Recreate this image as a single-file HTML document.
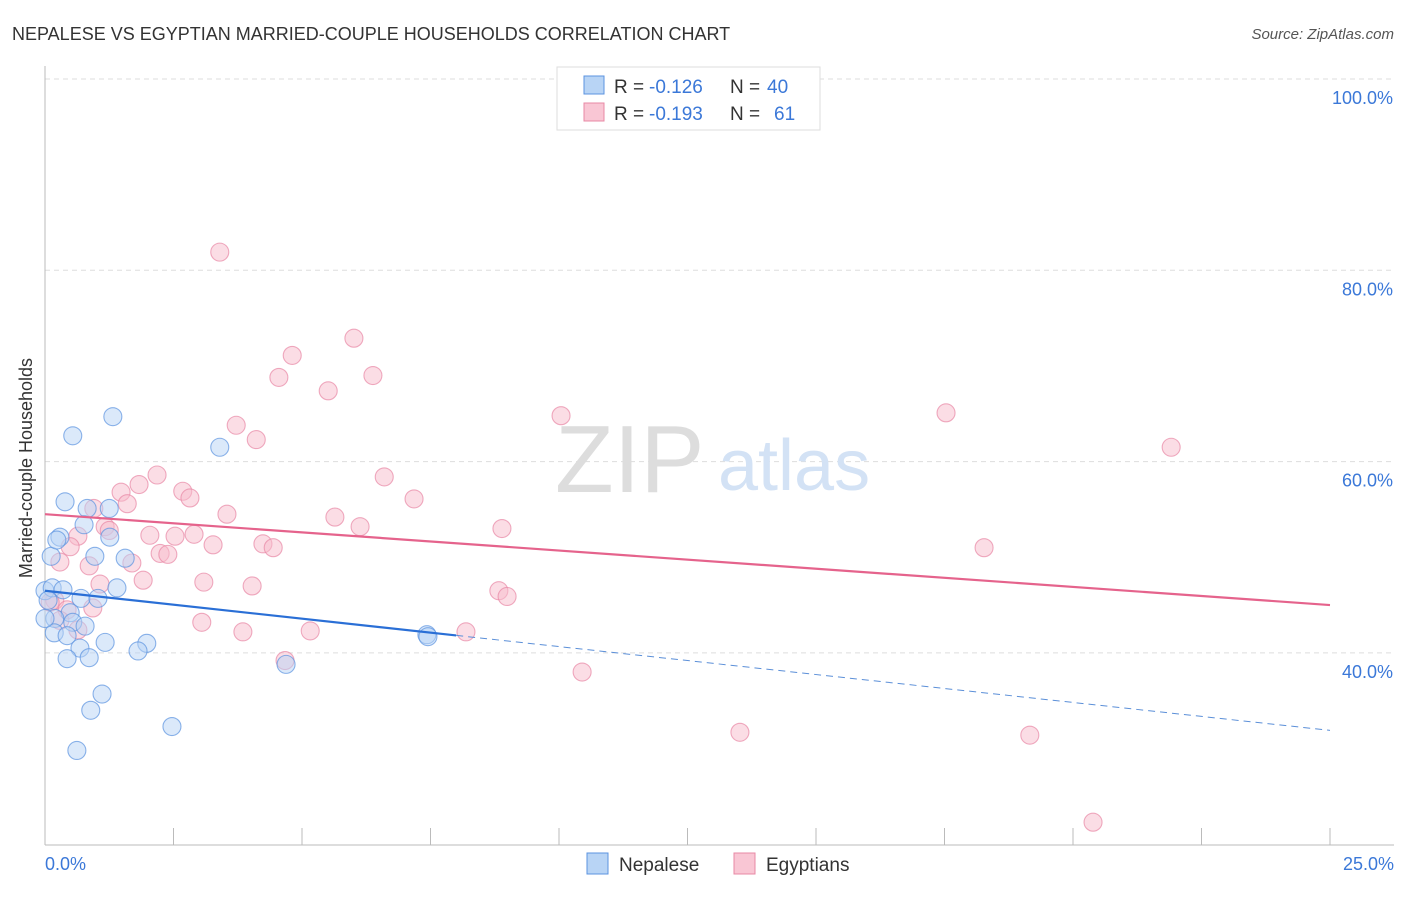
<!DOCTYPE html>
<html><head><meta charset="utf-8"><style>
body{margin:0;background:#fff;font-family:"Liberation Sans",sans-serif;}
svg text{font-family:"Liberation Sans",sans-serif;}
</style></head><body>
<svg id="chart" width="1406" height="892">
<text x="12" y="40" font-size="18" fill="#333">NEPALESE VS EGYPTIAN MARRIED-COUPLE HOUSEHOLDS CORRELATION CHART</text>
<text x="1394" y="39" font-size="15" fill="#555" font-style="italic" text-anchor="end">Source: ZipAtlas.com</text>
<g id="grid"></g>
<line x1="45" y1="66" x2="45" y2="845" stroke="#bbb"/>
<line x1="45" y1="845" x2="1394" y2="845" stroke="#bbb"/>
<text x="555" y="492" font-size="96" fill="#ddd" font-family="Liberation Serif">ZIP</text>
<text x="718" y="490" font-size="72" fill="#d3e2f5">atlas</text>
<g id="ticks"></g>
<g id="pts"></g>
<g id="lines"></g>
<text x="20" y="456" font-size="18" fill="#333" transform="rotate(-90 32 456)" text-anchor="middle">Married-couple Households</text>
<text x="45" y="870" font-size="18" fill="#3b78d8">0.0%</text>
<text x="1394" y="870" font-size="18" fill="#3b78d8" text-anchor="end">25.0%</text>
<g>
<rect x="557" y="67" width="263" height="63" fill="#fff" stroke="#ddd"/>
<rect x="584" y="76" width="20" height="18" fill="#b8d4f5" stroke="#5b93e0"/>
<rect x="584" y="103" width="20" height="18" fill="#f9c6d4" stroke="#e888a5"/>
<text x="614" y="93" font-size="19" fill="#333">R =</text>
<text x="649" y="93" font-size="19" fill="#3b78d8">-0.126</text>
<text x="730" y="93" font-size="19" fill="#333">N =</text>
<text x="767" y="93" font-size="19" fill="#3b78d8">40</text>
<text x="614" y="120" font-size="19" fill="#333">R =</text>
<text x="649" y="120" font-size="19" fill="#3b78d8">-0.193</text>
<text x="730" y="120" font-size="19" fill="#333">N =</text>
<text x="774" y="120" font-size="19" fill="#3b78d8">61</text>
</g>
<g>
<rect x="587" y="853" width="21" height="21" fill="#b8d4f5" stroke="#5b93e0"/>
<text x="619" y="871" font-size="19" fill="#333">Nepalese</text>
<rect x="734" y="853" width="21" height="21" fill="#f9c6d4" stroke="#e888a5"/>
<text x="766" y="871" font-size="19" fill="#333">Egyptians</text>
</g>
</svg>
<script>
const yTicks=[100,80,60,40];
const yTickLabels=["100.0%","80.0%","60.0%","40.0%"];
const xTicks=[0,2.5,5,7.5,10,12.5,15,17.5,20,22.5,25];
const nepX=[1.32,0.54,3.40,0.39,0.82,1.25,0.76,0.29,1.26,0.12,0.97,1.56,0.0,0.14,0.35,1.40,0.70,1.03,0.49,0.19,0.54,0.78,0.18,0.43,1.17,1.98,0.68,1.81,0.43,0.86,7.43,7.45,4.69,1.11,0.89,2.47,0.62,0.0,0.23,0.06];
const nepY=[64.7,62.7,61.5,55.8,55.1,55.1,53.4,52.1,52.1,50.1,50.1,49.9,46.5,46.8,46.6,46.8,45.7,45.7,44.2,43.6,43.2,42.8,42.1,41.8,41.1,41.0,40.5,40.2,39.4,39.5,41.9,41.7,38.8,35.7,34.0,32.3,29.8,43.6,51.8,45.5];
const egyX=[3.40,6.01,4.81,6.38,4.55,5.51,10.04,17.53,3.72,4.11,21.91,2.18,6.60,1.83,2.68,1.48,2.82,7.18,0.95,1.60,3.54,5.64,1.17,1.25,0.64,2.04,2.90,2.53,6.13,8.89,3.27,4.24,4.44,0.49,2.24,2.39,18.27,1.69,0.86,0.29,1.91,1.07,3.09,4.03,8.83,8.99,0.19,0.43,0.93,3.05,3.85,5.16,8.19,4.67,10.45,13.52,19.16,20.39,0.10,0.29,0.64];
const egyY=[81.9,72.9,71.1,69.0,68.8,67.4,64.8,65.1,63.8,62.3,61.5,58.6,58.4,57.6,56.9,56.8,56.2,56.1,55.1,55.6,54.5,54.2,53.2,52.8,52.2,52.3,52.4,52.2,53.2,53.0,51.3,51.4,51.0,51.1,50.4,50.3,51.0,49.4,49.1,49.5,47.6,47.2,47.4,47.0,46.5,45.9,45.5,44.5,44.7,43.2,42.2,42.3,42.2,39.2,38.0,31.7,31.4,22.3,45.3,43.4,42.4];
const nepTrend=[46.5,31.9]; const nepSolidEnd=8.0;
const egyTrend=[54.5,45.0];
const NS="http://www.w3.org/2000/svg";
const xs=v=>45+v*51.4, ys=v=>79+(100-v)*9.565;
function mk(t,a,p){const e=document.createElementNS(NS,t);for(const k in a)e.setAttribute(k,a[k]);document.getElementById(p).appendChild(e);return e;}
yTicks.forEach((v,i)=>{
 const l=mk('line',{x1:45,x2:1394,y1:ys(v),y2:ys(v),stroke:'#ddd','stroke-dasharray':'5,4'},'grid');
 
 
 const t=mk('text',{x:1393,y:ys(v)+25,'font-size':18,fill:'#3b78d8','text-anchor':'end'},'ticks');
 t.textContent=yTickLabels[i];
 
 
});
xTicks.forEach(v=>{
 const l=mk('line',{x1:xs(v),x2:xs(v),y1:828,y2:845,stroke:'#bbb'},'ticks');
 
 
});
function pts(X,Y,fill,stroke,name){X.forEach((x,i)=>{
 const c=mk('circle',{cx:xs(x),cy:ys(Y[i]),r:9,fill:fill,'fill-opacity':0.5,stroke:stroke,'stroke-width':1.1,'stroke-opacity':0.7},'pts');
 
 
});}
pts(egyX,egyY,'#f7bccc','#e888a5','egyptian-point');
pts(nepX,nepY,'#b8d4f5','#5b93e0','nepalese-point');
const ln=(a,b)=>v=>a+(b-a)*v/25;
const nf=ln(nepTrend[0],nepTrend[1]), ef=ln(egyTrend[0],egyTrend[1]);
let l1=mk('line',{x1:xs(0),y1:ys(ef(0)),x2:xs(25),y2:ys(ef(25)),stroke:'#e5638c','stroke-width':2.2},'lines');


let l2=mk('line',{x1:xs(0),y1:ys(nf(0)),x2:xs(nepSolidEnd),y2:ys(nf(nepSolidEnd)),stroke:'#2a6fd6','stroke-width':2.2},'lines');


let l3=mk('line',{x1:xs(nepSolidEnd),y1:ys(nf(nepSolidEnd)),x2:xs(25),y2:ys(nf(25)),stroke:'#5b8fd8','stroke-width':1,'stroke-dasharray':'7,5'},'lines');


</script>
</body></html>
